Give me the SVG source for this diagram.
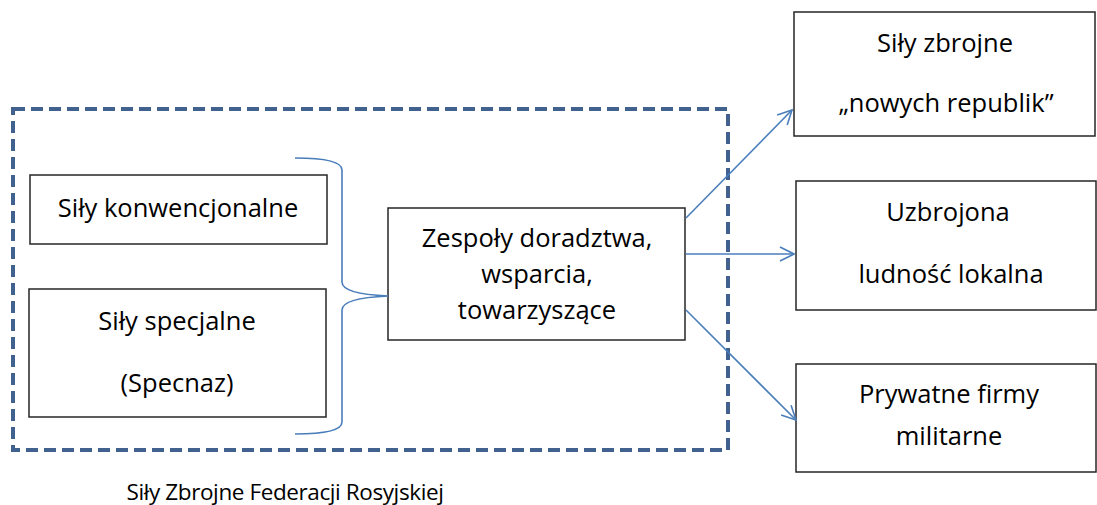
<svg xmlns="http://www.w3.org/2000/svg" width="1097" height="505" viewBox="0 0 1097 505">
  <defs>
    <style>
      .box { fill: #ffffff; stroke: #262626; stroke-width: 1.5; }
      .lbl { font-family: "Open Sans", "Liberation Sans", sans-serif; font-size: 25.5px; fill: #000000; text-anchor: middle; }
      .caption { font-size: 22.5px; letter-spacing: -0.4px; }
      .conn { fill: none; stroke: #4a7ebb; stroke-width: 1.6; }
      .frame { fill: none; stroke: #41618f; stroke-width: 4; stroke-dasharray: 12 6; }
    </style>
    <marker id="open-arrow" viewBox="0 0 16 16" refX="15" refY="8" markerWidth="16" markerHeight="16" markerUnits="userSpaceOnUse" orient="auto">
      <path d="M1,1 L15,8 L1,15" fill="none" stroke="#4a7ebb" stroke-width="1.6"/>
    </marker>
  </defs>

  <rect width="1097" height="505" fill="#ffffff"/>

  <!-- dashed frame grouping the Russian forces -->
  <g id="frame">
    <rect class="frame" x="13" y="109" width="715" height="341"/>
    <text class="lbl caption" x="285" y="500">Siły Zbrojne Federacji Rosyjskiej</text>
  </g>

  <g id="node-konwencjonalne">
    <rect class="box" x="30" y="175" width="297" height="69"/>
    <text class="lbl" x="178" y="217">Siły konwencjonalne</text>
  </g>

  <g id="node-specjalne">
    <rect class="box" x="29" y="289" width="297" height="128"/>
    <text class="lbl" x="177" y="330">Siły specjalne</text>
    <text class="lbl" x="177" y="392">(Specnaz)</text>
  </g>

  <g id="node-zespoly">
    <rect class="box" x="388" y="208" width="297" height="132"/>
    <text class="lbl" x="537" y="247">Zespoły doradztwa,</text>
    <text class="lbl" x="537" y="283">wsparcia,</text>
    <text class="lbl" x="537" y="319">towarzyszące</text>
  </g>

  <g id="node-republik">
    <rect class="box" x="794" y="12" width="301" height="124"/>
    <text class="lbl" x="945" y="52">Siły zbrojne</text>
    <text class="lbl" x="946" y="112">„nowych republik”</text>
  </g>

  <g id="node-ludnosc">
    <rect class="box" x="796" y="181" width="300" height="129"/>
    <text class="lbl" x="948" y="221">Uzbrojona</text>
    <text class="lbl" x="951" y="283">ludność lokalna</text>
  </g>

  <g id="node-firmy">
    <rect class="box" x="796" y="364" width="300" height="108"/>
    <text class="lbl" x="949" y="403">Prywatne firmy</text>
    <text class="lbl" x="949" y="445">militarne</text>
  </g>

  <g id="connectors">
    <!-- brace joining the two force types -->
    <path class="conn" d="M295,158 Q342,158 342,170 L342,282 Q342,294 388,296 Q342,298 342,310 L342,422 Q342,434 295,434"/>
    <line class="conn" x1="686" y1="218" x2="792" y2="110" marker-end="url(#open-arrow)"/>
    <line class="conn" x1="686" y1="254" x2="794" y2="254" marker-end="url(#open-arrow)"/>
    <line class="conn" x1="686" y1="310" x2="796" y2="420" marker-end="url(#open-arrow)"/>
  </g>
</svg>
